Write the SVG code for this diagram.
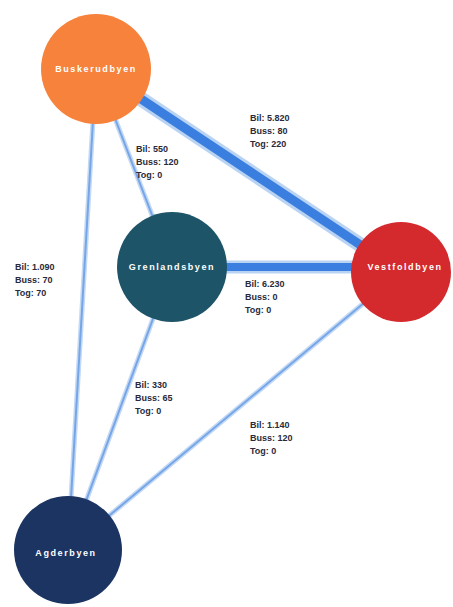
<svg xmlns="http://www.w3.org/2000/svg" width="453" height="607" viewBox="0 0 453 607">
<style>
.halo{stroke:#b9d3f3;fill:none;stroke-linecap:butt}
.core{stroke:#3a7ee0;fill:none}
.thinhalo{stroke:#c3d9f4;stroke-width:5;fill:none}
.thincore{stroke:#76a6e8;stroke-width:2;fill:none}
.lbl{font-family:"Liberation Sans",Arial,sans-serif;font-weight:bold;font-size:9px;fill:#2a2a3a}
.nl{font-family:"Liberation Sans",Arial,sans-serif;font-weight:bold;font-size:9px;fill:#ffffff;text-anchor:middle;letter-spacing:1.6px}
</style>
<rect width="453" height="607" fill="#ffffff"/>
<g id="connectors">
  <g id="e-busk-vest">
    <line class="halo" stroke-width="15" x1="96" y1="69" x2="401" y2="272"/>
    <line class="core" stroke-width="9" x1="96" y1="69" x2="401" y2="272"/>
  </g>
  <g id="e-gren-vest">
    <line class="halo" stroke-width="13" x1="172" y1="267" x2="401" y2="267"/>
    <line class="core" stroke-width="8" x1="172" y1="267" x2="401" y2="267"/>
  </g>
  <g id="e-busk-gren">
    <line class="thinhalo" x1="96" y1="69" x2="172" y2="267"/>
    <line class="thincore" x1="96" y1="69" x2="172" y2="267"/>
  </g>
  <g id="e-busk-agder">
    <line class="thinhalo" stroke-width="6" x1="96" y1="69" x2="68" y2="550"/>
    <line class="thincore" x1="96" y1="69" x2="68" y2="550"/>
  </g>
  <g id="e-gren-agder">
    <line class="thinhalo" x1="172" y1="267" x2="68" y2="550"/>
    <line class="thincore" x1="172" y1="267" x2="68" y2="550"/>
  </g>
  <g id="e-vest-agder">
    <line class="thinhalo" x1="401" y1="272" x2="68" y2="550"/>
    <line class="thincore" x1="401" y1="272" x2="68" y2="550"/>
  </g>
</g>
<g id="edge-labels">
  <text class="lbl" x="250" y="121">Bil: 5.820</text>
  <text class="lbl" x="250" y="134">Buss: 80</text>
  <text class="lbl" x="250" y="147">Tog: 220</text>

  <text class="lbl" x="136" y="152">Bil: 550</text>
  <text class="lbl" x="136" y="165">Buss: 120</text>
  <text class="lbl" x="136" y="178">Tog: 0</text>

  <text class="lbl" x="15" y="270">Bil: 1.090</text>
  <text class="lbl" x="15" y="283">Buss: 70</text>
  <text class="lbl" x="15" y="296">Tog: 70</text>

  <text class="lbl" x="245" y="287">Bil: 6.230</text>
  <text class="lbl" x="245" y="300">Buss: 0</text>
  <text class="lbl" x="245" y="313">Tog: 0</text>

  <text class="lbl" x="135" y="388">Bil: 330</text>
  <text class="lbl" x="135" y="401">Buss: 65</text>
  <text class="lbl" x="135" y="414">Tog: 0</text>

  <text class="lbl" x="250" y="428">Bil: 1.140</text>
  <text class="lbl" x="250" y="441">Buss: 120</text>
  <text class="lbl" x="250" y="454">Tog: 0</text>
</g>
<g id="node-buskerudbyen">
  <circle cx="96" cy="69" r="55" fill="#f7823c"/>
  <text class="nl" x="96" y="72">Buskerudbyen</text>
</g>
<g id="node-grenlandsbyen">
  <circle cx="172" cy="267" r="55" fill="#1e5468"/>
  <text class="nl" x="172" y="270">Grenlandsbyen</text>
</g>
<g id="node-vestfoldbyen">
  <circle cx="401" cy="272" r="50" fill="#d42a2e"/>
  <text class="nl" x="405" y="270">Vestfoldbyen</text>
</g>
<g id="node-agderbyen">
  <circle cx="68" cy="550" r="54" fill="#1c3462"/>
  <text class="nl" x="66" y="556">Agderbyen</text>
</g>
</svg>
